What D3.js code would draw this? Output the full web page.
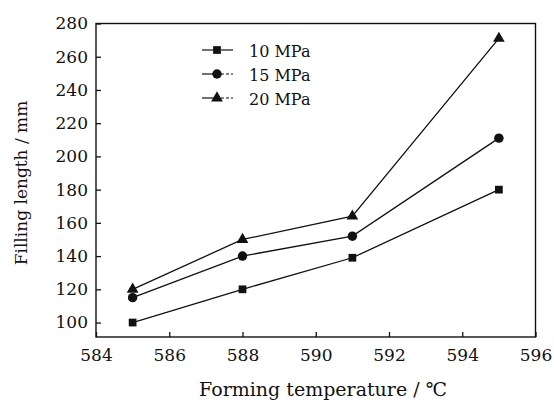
<!DOCTYPE html>
<html><head><meta charset="utf-8">
<script src="https://cdn.jsdelivr.net/npm/d3@7"></script>
<style>body{margin:0;background:#fff}svg{display:block}</style>
</head><body><svg id="c" width="554" height="405"></svg>
<script>
const temps = [585, 588, 591, 595];
const s10 = [100, 120, 139, 180];
const s15 = [115, 140, 152, 211];
const s20 = [120, 150, 164, 271];
const seriesNames = ["10 MPa", "15 MPa", "20 MPa"];
const symbols = ["square", "circle", "triangle"];
const xTicks = [584, 586, 588, 590, 592, 594, 596];
const yTicks = [100, 120, 140, 160, 180, 200, 220, 240, 260, 280];

const FONT = "'DejaVu Serif', serif";
const svg = d3.select("#c");
const L = 96, R = 535.5, T = 23.5, B = 337;
const x = d3.scaleLinear().domain([584, 596]).range([L, R]);
const y = d3.scaleLinear().domain([91.3, 280]).range([B, T]);
const fs = 17;

svg.append("rect").attr("x", L).attr("y", T).attr("width", R - L).attr("height", B - T)
  .attr("fill", "none").attr("stroke", "#111").attr("stroke-width", 1.4);

const xAxis = svg.append("g").attr("transform", `translate(0,${B})`)
  .call(d3.axisBottom(x).tickValues(xTicks).tickSize(-5).tickPadding(12).tickFormat(d3.format("d")));
const yAxis = svg.append("g").attr("transform", `translate(${L},0)`)
  .call(d3.axisLeft(y).tickValues(yTicks).tickSize(-5).tickPadding(8).tickFormat(d3.format("d")));
[xAxis, yAxis].forEach(g => {
  g.attr("font-family", FONT).attr("font-size", fs);
  g.select(".domain").remove();
  g.selectAll("line").attr("stroke", "#111").attr("stroke-width", 1.3);
  g.selectAll("text").style("font-family", FONT).style("font-size", fs + "px").attr("fill", "#111");
});

svg.append("text").attr("x", 323).attr("y", 396).attr("text-anchor", "middle")
  .style("font-family", FONT).style("font-size", "19px").attr("fill", "#111").text("Forming temperature / ℃");
svg.append("text").attr("transform", "translate(27,183) rotate(-90)").attr("text-anchor", "middle")
  .style("font-family", FONT).style("font-size", fs + "px").attr("fill", "#111").text("Filling length / mm");

const data = [s10, s15, s20];
const symType = {square: d3.symbolSquare, circle: d3.symbolCircle, triangle: d3.symbolTriangle};
const symSize = {square: 60, circle: 70, triangle: 60};
const line = d3.line().x((d, i) => x(temps[i])).y(d => y(d));
data.forEach((vals, k) => {
  svg.append("path").attr("d", line(vals)).attr("fill", "none").attr("stroke", "#111").attr("stroke-width", 1.3);
  svg.selectAll(null).data(vals).enter().append("path")
    .attr("transform", (d, i) => `translate(${x(temps[i])},${y(d)})`)
    .attr("d", d3.symbol().type(symType[symbols[k]]).size(symSize[symbols[k]]))
    .attr("fill", "#111");
});

const legY = [50, 74, 98];
seriesNames.forEach((name, k) => {
  const g = svg.append("g").attr("transform", `translate(0,${legY[k]})`);
  g.append("line").attr("x1", 202).attr("x2", 214).attr("stroke", "#111").attr("stroke-width", 1.2);
  g.append("line").attr("x1", 221).attr("x2", 233).attr("stroke", "#111").attr("stroke-width", 1.2)
    .attr("stroke-dasharray", k === 0 ? null : "3,2");
  g.append("path").attr("transform", "translate(217,0)")
    .attr("d", d3.symbol().type(symType[symbols[k]]).size(symSize[symbols[k]])).attr("fill", "#111");
  g.append("text").attr("x", 249).attr("y", 6.5).style("font-family", FONT).style("font-size", "16px")
    .attr("fill", "#111").text(name);
});
</script></body></html>
